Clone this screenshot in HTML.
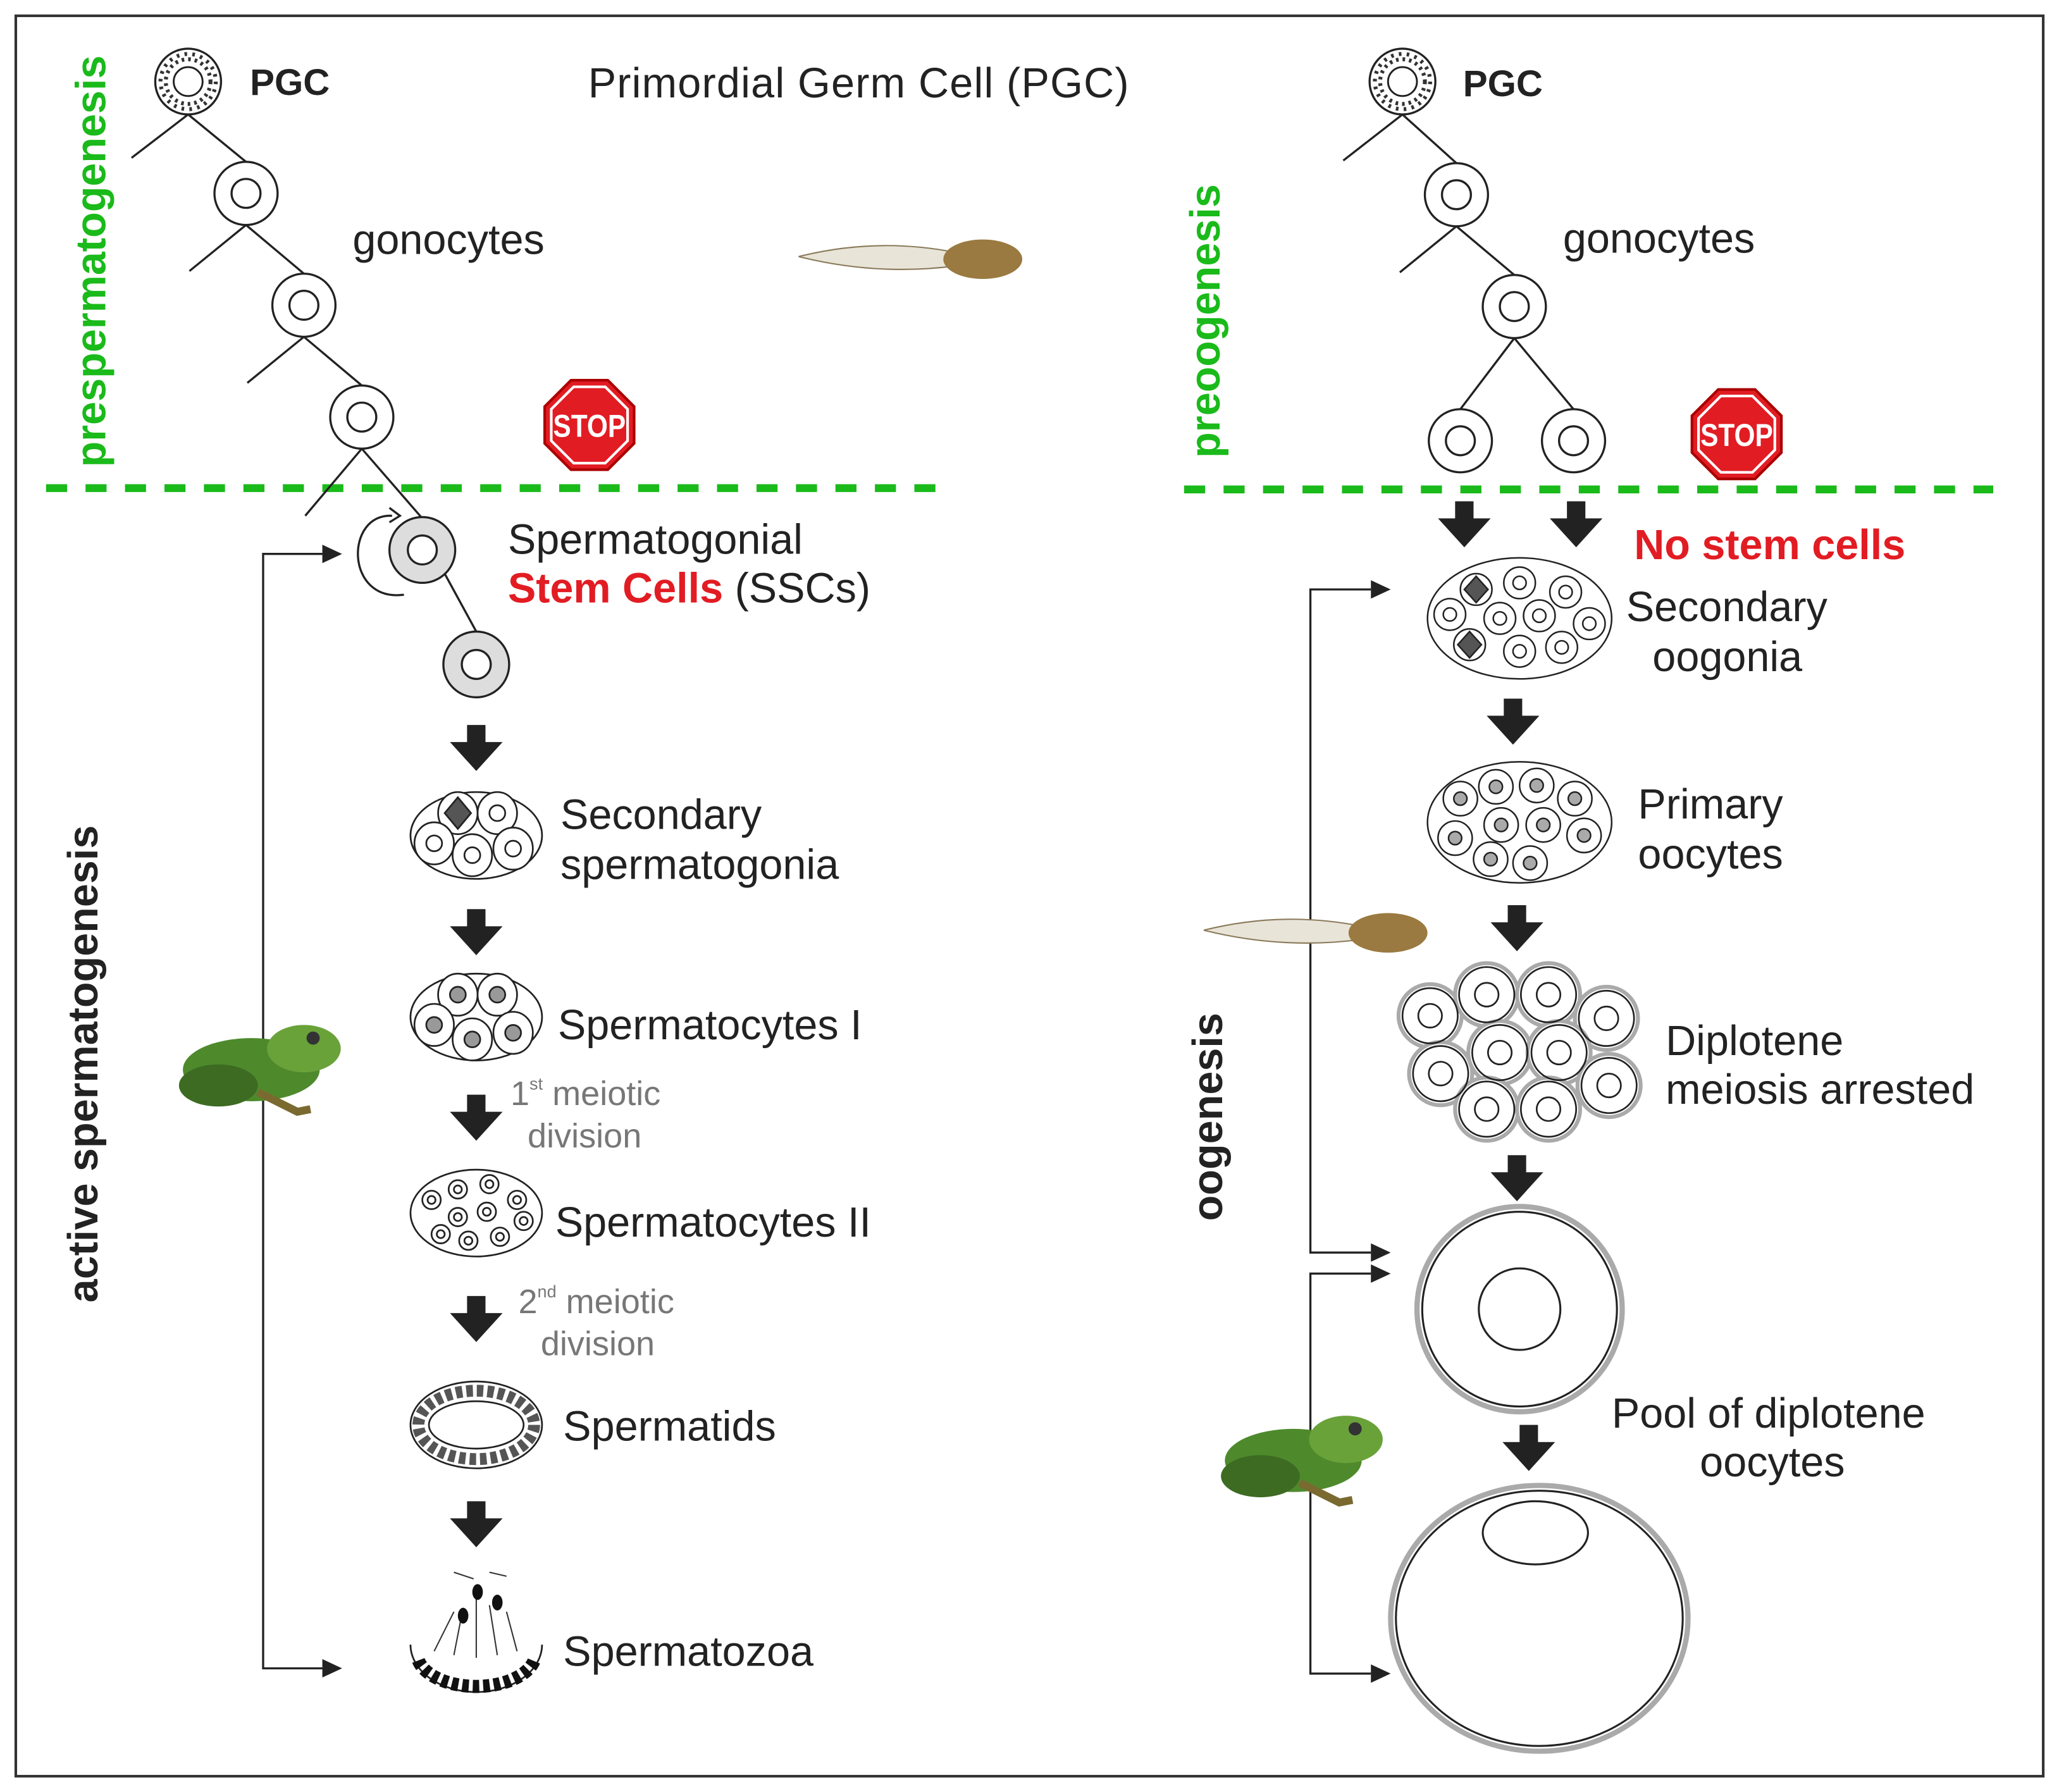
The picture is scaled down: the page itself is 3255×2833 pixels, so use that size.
<!DOCTYPE html>
<html><head><meta charset="utf-8"><style>
html,body{margin:0;padding:0;background:#fff;}
svg{display:block;}
text{font-family:"Liberation Sans",sans-serif;}
</style></head><body>
<svg width="3255" height="2833" viewBox="0 0 1565 1362" preserveAspectRatio="none" xmlns="http://www.w3.org/2000/svg">
<defs>
<path id="arr" d="M-7,0 h14 v13 h13 L0,35 L-20,13 h13 z" fill="#222"/>
<g id="gon"><circle r="24" fill="#fff" stroke="#222" stroke-width="1.6"/><circle r="11" fill="none" stroke="#222" stroke-width="1.6"/></g>
<g id="pgc"><circle r="25" fill="#fff" stroke="#222" stroke-width="1.6"/><circle r="11" fill="#fff" stroke="#222" stroke-width="1.4"/><circle r="17" fill="none" stroke="#333" stroke-width="3" stroke-dasharray="2 3"/><circle r="21" fill="none" stroke="#333" stroke-width="3" stroke-dasharray="2 4"/></g>
<g id="stop"><polygon points="-14,-34 14,-34 34,-14 34,14 14,34 -14,34 -34,14 -34,-14" fill="#e21c23" stroke="#a00" stroke-width="2"/><polygon points="-12,-29 12,-29 29,-12 29,12 12,29 -12,29 -29,12 -29,-12" fill="none" stroke="#fff" stroke-width="2"/><text x="0" y="9" font-size="24" font-weight="bold" fill="#fff" text-anchor="middle" transform="scale(0.85,1)">STOP</text></g>
<g id="frog"><ellipse cx="55" cy="38" rx="52" ry="24" fill="#4e8a2c"/><ellipse cx="95" cy="22" rx="28" ry="18" fill="#6aa23a"/><ellipse cx="30" cy="50" rx="30" ry="16" fill="#3d6b22"/><circle cx="102" cy="14" r="5" fill="#333"/><path d="M60,55 L90,70 L100,68" stroke="#7a6a30" stroke-width="6" fill="none"/></g>
<g id="tad"><path d="M0,15 Q60,0 120,12 L120,22 Q60,30 0,15z" fill="#e8e4d8" stroke="#8a7a5a"/><ellipse cx="140" cy="17" rx="30" ry="15" fill="#9a7a40"/></g>
</defs>
<rect x="12" y="12" width="1541" height="1338" fill="#fff" stroke="#333" stroke-width="2"/>

<line x1="35" y1="371" x2="712" y2="371" stroke="#1aba1a" stroke-width="6" stroke-dasharray="16 14"/>
<line x1="900" y1="372" x2="1515" y2="372" stroke="#1aba1a" stroke-width="6" stroke-dasharray="16 14"/>

<g stroke="#222" stroke-width="1.6" fill="none">
<line x1="143" y1="87" x2="100" y2="120"/><line x1="143" y1="87" x2="187" y2="123"/>
<line x1="187" y1="171" x2="144" y2="206"/><line x1="187" y1="171" x2="231" y2="208"/>
<line x1="231" y1="256" x2="188" y2="291"/><line x1="231" y1="256" x2="275" y2="293"/>
<line x1="275" y1="341" x2="232" y2="392"/><line x1="275" y1="341" x2="321" y2="394"/>
<line x1="338" y1="436" x2="362" y2="480"/>
<path d="M298,392 C262,390 262,458 307,452" /><path d="M296,386 l8,6 l-8,5"/>
</g>
<use href="#pgc" x="143" y="62"/>
<use href="#gon" x="187" y="147"/><use href="#gon" x="231" y="232"/><use href="#gon" x="275" y="317"/>
<circle cx="321" cy="418" r="25" fill="#ddd" stroke="#222" stroke-width="1.6"/><circle cx="321" cy="418" r="11" fill="#fff" stroke="#222" stroke-width="1.6"/>
<circle cx="362" cy="505" r="25" fill="#ddd" stroke="#222" stroke-width="1.6"/><circle cx="362" cy="505" r="11" fill="#fff" stroke="#222" stroke-width="1.6"/>
<use href="#stop" x="448" y="323"/>
<text x="190" y="72" font-size="28" font-weight="bold" fill="#222">PGC</text>
<text x="447" y="74" font-size="32" fill="#222" textLength="411">Primordial Germ Cell (PGC)</text>
<text x="268" y="193" font-size="32" fill="#222">gonocytes</text>
<use href="#tad" x="607" y="180"/>
<text transform="translate(80,355) rotate(-90)" font-size="32" font-weight="bold" fill="#1aba1a">prespermatogenesis</text>
<text transform="translate(74,990) rotate(-90)" font-size="32" font-weight="bold" fill="#222">active spermatogenesis</text>

<text x="386" y="421" font-size="32" fill="#222">Spermatogonial</text>
<text x="386" y="458" font-size="32" fill="#222"><tspan fill="#e21c23" font-weight="bold">Stem Cells</tspan> (SSCs)</text>

<g stroke="#222" stroke-width="1.6" fill="none">
<polyline points="245,421 200,421 200,1268 245,1268"/>
</g>
<path d="M245,414 L260,421 L245,428z M245,1261 L260,1268 L245,1275z" fill="#222"/>
<use href="#frog" x="136" y="775"/>

<use href="#arr" x="362" y="551"/><use href="#arr" x="362" y="691"/><use href="#arr" x="362" y="832"/>
<use href="#arr" x="362" y="985"/><use href="#arr" x="362" y="1141"/>

<g stroke="#222" stroke-width="1.3" fill="#fff">
<ellipse cx="362" cy="635" rx="50" ry="33"/>
<ellipse cx="348" cy="618" rx="15" ry="16"/><ellipse cx="378" cy="618" rx="15" ry="16"/>
<ellipse cx="330" cy="641" rx="15" ry="16"/><ellipse cx="359" cy="650" rx="15" ry="16"/><ellipse cx="390" cy="645" rx="15" ry="16"/>
<circle cx="378" cy="618" r="6"/><circle cx="330" cy="641" r="6"/><circle cx="359" cy="650" r="6"/><circle cx="390" cy="645" r="6"/>
<polygon points="348,606 358,618 348,630 338,618" fill="#555"/>
</g>
<text x="426" y="630" font-size="32" fill="#222">Secondary</text>
<text x="426" y="668" font-size="32" fill="#222">spermatogonia</text>

<g stroke="#222" stroke-width="1.3" fill="#fff">
<ellipse cx="362" cy="773" rx="50" ry="33"/>
<ellipse cx="348" cy="756" rx="15" ry="16"/><ellipse cx="378" cy="756" rx="15" ry="16"/>
<ellipse cx="330" cy="779" rx="15" ry="16"/><ellipse cx="359" cy="790" rx="15" ry="16"/><ellipse cx="390" cy="785" rx="15" ry="16"/>
<g fill="#999"><circle cx="348" cy="756" r="6"/><circle cx="378" cy="756" r="6"/><circle cx="330" cy="779" r="6"/><circle cx="359" cy="790" r="6"/><circle cx="390" cy="785" r="6"/></g>
</g>
<text x="424" y="790" font-size="32" fill="#222">Spermatocytes I</text>
<text x="388" y="840" font-size="26" fill="#777">1<tspan font-size="13" dy="-12">st</tspan><tspan dy="12"> meiotic</tspan></text>
<text x="401" y="872" font-size="26" fill="#777">division</text>

<g stroke="#222" stroke-width="1.3" fill="#fff">
<ellipse cx="362" cy="922" rx="50" ry="33"/>
<g fill="none"><circle cx="328" cy="912" r="7"/><circle cx="348" cy="904" r="7"/><circle cx="372" cy="900" r="7"/><circle cx="393" cy="912" r="7"/>
<circle cx="348" cy="925" r="7"/><circle cx="370" cy="921" r="7"/><circle cx="335" cy="938" r="7"/><circle cx="356" cy="943" r="7"/><circle cx="380" cy="940" r="7"/><circle cx="398" cy="928" r="7"/></g>
<g fill="none"><circle cx="328" cy="912" r="3"/><circle cx="348" cy="904" r="3"/><circle cx="372" cy="900" r="3"/><circle cx="393" cy="912" r="3"/>
<circle cx="348" cy="925" r="3"/><circle cx="370" cy="921" r="3"/><circle cx="335" cy="938" r="3"/><circle cx="356" cy="943" r="3"/><circle cx="380" cy="940" r="3"/><circle cx="398" cy="928" r="3"/></g>
</g>
<text x="422" y="940" font-size="32" fill="#222">Spermatocytes II</text>
<text x="394" y="998" font-size="26" fill="#777">2<tspan font-size="13" dy="-12">nd</tspan><tspan dy="12"> meiotic</tspan></text>
<text x="411" y="1030" font-size="26" fill="#777">division</text>

<ellipse cx="362" cy="1083" rx="50" ry="33" fill="#fff" stroke="#222" stroke-width="1.3"/>
<ellipse cx="362" cy="1083" rx="36" ry="18" fill="none" stroke="#222" stroke-width="1.3"/>
<ellipse cx="362" cy="1083" rx="44" ry="26" fill="none" stroke="#555" stroke-width="9" stroke-dasharray="5 3"/>
<text x="428" y="1095" font-size="32" fill="#222">Spermatids</text>

<path d="M312,1250 A50,36 0 0 0 412,1250" fill="#fff" stroke="#222" stroke-width="1.3"/>
<path d="M318,1262 A45,25 0 0 0 406,1262" fill="none" stroke="#111" stroke-width="10" stroke-dasharray="5 3"/>
<g stroke="#333" stroke-width="1" fill="none"><path d="M330,1255 L345,1225 M345,1258 L352,1222 M362,1260 L362,1215 M378,1258 L372,1220 M393,1255 L385,1225 M360,1200 L345,1195 M372,1195 L385,1198"/></g>
<g fill="#111"><ellipse cx="363" cy="1210" rx="4" ry="6"/><ellipse cx="378" cy="1218" rx="4" ry="6"/><ellipse cx="352" cy="1228" rx="4" ry="6"/></g>
<text x="428" y="1266" font-size="32" fill="#222">Spermatozoa</text>

<g stroke="#222" stroke-width="1.6" fill="none">
<line x1="1066" y1="87" x2="1021" y2="122"/><line x1="1066" y1="87" x2="1107" y2="124"/>
<line x1="1107" y1="172" x2="1064" y2="207"/><line x1="1107" y1="172" x2="1151" y2="209"/>
<line x1="1151" y1="257" x2="1110" y2="311"/><line x1="1151" y1="257" x2="1196" y2="311"/>
</g>
<use href="#pgc" x="1066" y="62"/>
<use href="#gon" x="1107" y="148"/><use href="#gon" x="1151" y="233"/><use href="#gon" x="1110" y="335"/><use href="#gon" x="1196" y="335"/>
<use href="#stop" x="1320" y="330"/>
<text x="1112" y="73" font-size="28" font-weight="bold" fill="#222">PGC</text>
<text x="1188" y="192" font-size="32" fill="#222">gonocytes</text>
<text transform="translate(927,348) rotate(-90)" font-size="32" font-weight="bold" fill="#1aba1a">preoogenesis</text>
<text transform="translate(929,928) rotate(-90)" font-size="32" font-weight="bold" fill="#222">oogenesis</text>
<use href="#arr" x="1113" y="381"/><use href="#arr" x="1198" y="381"/>
<text x="1242" y="425" font-size="32" font-weight="bold" fill="#e21c23">No stem cells</text>

<g stroke="#222" stroke-width="1.6" fill="none">
<polyline points="1042,448 996,448 996,952 1042,952"/>
<polyline points="1042,968 996,968 996,1272 1042,1272"/>
</g>
<path d="M1042,441 L1057,448 L1042,455z M1042,945 L1057,952 L1042,959z M1042,961 L1057,968 L1042,975z M1042,1265 L1057,1272 L1042,1279z" fill="#222"/>
<use href="#tad" x="915" y="692"/>
<use href="#frog" x="928" y="1072"/>

<g stroke="#222" stroke-width="1.2" fill="#fff">
<ellipse cx="1155" cy="470" rx="70" ry="46"/>
<g><circle cx="1122" cy="448" r="12"/><circle cx="1155" cy="443" r="12"/><circle cx="1190" cy="450" r="12"/><circle cx="1102" cy="467" r="12"/><circle cx="1140" cy="470" r="12"/><circle cx="1170" cy="468" r="12"/><circle cx="1208" cy="474" r="12"/><circle cx="1117" cy="490" r="12"/><circle cx="1155" cy="495" r="12"/><circle cx="1187" cy="492" r="12"/></g>
<g fill="none"><circle cx="1155" cy="443" r="5"/><circle cx="1190" cy="450" r="5"/><circle cx="1102" cy="467" r="5"/><circle cx="1140" cy="470" r="5"/><circle cx="1170" cy="468" r="5"/><circle cx="1208" cy="474" r="5"/><circle cx="1155" cy="495" r="5"/><circle cx="1187" cy="492" r="5"/></g>
<polygon points="1122,438 1131,448 1122,458 1113,448" fill="#555"/><polygon points="1117,480 1126,490 1117,500 1108,490" fill="#555"/>
</g>
<text x="1236" y="472" font-size="32" fill="#222">Secondary</text>
<text x="1256" y="510" font-size="32" fill="#222">oogonia</text>
<use href="#arr" x="1150" y="531"/>

<g stroke="#222" stroke-width="1.2" fill="#fff">
<ellipse cx="1155" cy="625" rx="70" ry="46"/>
<g><circle cx="1110" cy="607" r="13"/><circle cx="1137" cy="598" r="13"/><circle cx="1168" cy="597" r="13"/><circle cx="1197" cy="607" r="13"/><circle cx="1106" cy="637" r="13"/><circle cx="1141" cy="627" r="13"/><circle cx="1173" cy="627" r="13"/><circle cx="1204" cy="635" r="13"/><circle cx="1133" cy="653" r="13"/><circle cx="1163" cy="656" r="13"/></g>
<g fill="#aaa"><circle cx="1110" cy="607" r="5"/><circle cx="1137" cy="598" r="5"/><circle cx="1168" cy="597" r="5"/><circle cx="1197" cy="607" r="5"/><circle cx="1106" cy="637" r="5"/><circle cx="1141" cy="627" r="5"/><circle cx="1173" cy="627" r="5"/><circle cx="1204" cy="635" r="5"/><circle cx="1133" cy="653" r="5"/><circle cx="1163" cy="656" r="5"/></g>
</g>
<text x="1245" y="622" font-size="32" fill="#222">Primary</text>
<text x="1245" y="660" font-size="32" fill="#222">oocytes</text>
<use href="#arr" x="1153" y="688"/>

<g stroke="#aaa" stroke-width="3" fill="#fff">
<circle cx="1087" cy="772" r="24"/><circle cx="1130" cy="756" r="24"/><circle cx="1177" cy="756" r="24"/><circle cx="1221" cy="774" r="24"/>
<circle cx="1095" cy="816" r="24"/><circle cx="1140" cy="800" r="24"/><circle cx="1185" cy="800" r="24"/><circle cx="1223" cy="825" r="24"/>
<circle cx="1130" cy="843" r="24"/><circle cx="1177" cy="843" r="24"/>
</g>
<g stroke="#222" stroke-width="1.3" fill="none">
<circle cx="1087" cy="772" r="21"/><circle cx="1130" cy="756" r="21"/><circle cx="1177" cy="756" r="21"/><circle cx="1221" cy="774" r="21"/>
<circle cx="1095" cy="816" r="21"/><circle cx="1140" cy="800" r="21"/><circle cx="1185" cy="800" r="21"/><circle cx="1223" cy="825" r="21"/>
<circle cx="1130" cy="843" r="21"/><circle cx="1177" cy="843" r="21"/>
<circle cx="1087" cy="772" r="9"/><circle cx="1130" cy="756" r="9"/><circle cx="1177" cy="756" r="9"/><circle cx="1221" cy="774" r="9"/>
<circle cx="1095" cy="816" r="9"/><circle cx="1140" cy="800" r="9"/><circle cx="1185" cy="800" r="9"/><circle cx="1223" cy="825" r="9"/>
<circle cx="1130" cy="843" r="9"/><circle cx="1177" cy="843" r="9"/>
</g>
<text x="1266" y="802" font-size="32" fill="#222">Diplotene</text>
<text x="1266" y="839" font-size="32" fill="#222">meiosis arrested</text>
<use href="#arr" x="1153" y="878"/>

<circle cx="1155" cy="995" r="78" fill="#fff" stroke="#aaa" stroke-width="4"/>
<circle cx="1155" cy="995" r="74" fill="none" stroke="#222" stroke-width="1.5"/>
<circle cx="1155" cy="995" r="31" fill="none" stroke="#222" stroke-width="1.5"/>
<use href="#arr" x="1162" y="1083"/>
<text x="1225" y="1085" font-size="32" fill="#222">Pool of diplotene</text>
<text x="1292" y="1122" font-size="32" fill="#222">oocytes</text>
<ellipse cx="1170" cy="1230" rx="113" ry="101" fill="#fff" stroke="#aaa" stroke-width="4"/>
<ellipse cx="1170" cy="1230" rx="109" ry="97" fill="none" stroke="#222" stroke-width="1.5"/>
<ellipse cx="1167" cy="1165" rx="40" ry="24" fill="none" stroke="#222" stroke-width="1.5"/>
</svg>
</body></html>
